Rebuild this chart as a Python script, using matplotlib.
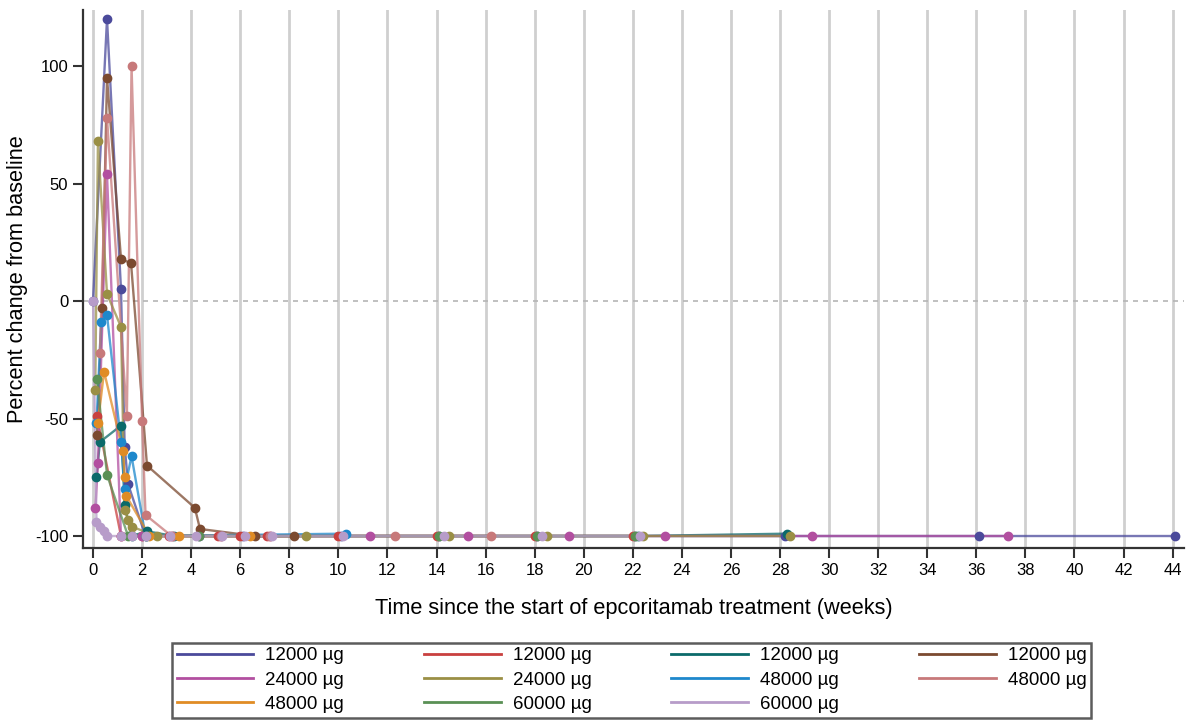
import matplotlib.pyplot as plt
from matplotlib.lines import Line2D

plt.rcParams['font.family'] = ['Liberation Sans', 'DejaVu Sans']
plt.rcParams['axes.unicode_minus'] = False

# one entry per patient: weeks since start, percent change from baseline
labels = ['12000 µg', '12000 µg', '12000 µg', '12000 µg',
          '24000 µg', '24000 µg', '48000 µg', '48000 µg',
          '48000 µg', '60000 µg', '60000 µg']
colors = ['#4B4A9B', '#C9403F', '#0B6A6A', '#7B4A30',
          '#B24FA0', '#9A8F45', '#1E88CC', '#C7797A',
          '#E08C25', '#5A9055', '#B79CC9']

weeks = [
    [0.0, 0.57, 1.14, 1.29, 1.43, 2.14, 4.3, 6.1, 10.1, 14.1, 18.1, 22.1, 28.2, 36.1, 44.1],
    [0.16, 1.14, 2.0, 3.1, 5.1, 6.0, 7.1, 10.0, 14.0, 18.0, 22.0],
    [0.14, 0.28, 1.14, 1.29, 1.57, 2.2, 3.3, 22.2, 28.3],
    [0.16, 0.37, 0.57, 1.14, 1.55, 2.2, 4.15, 4.36, 6.6, 8.2],
    [0.1, 0.2, 0.57, 1.14, 2.0, 3.2, 5.2, 7.2, 11.3, 15.3, 19.4, 23.3, 29.3, 37.3],
    [0.09, 0.2, 0.57, 1.14, 1.29, 1.43, 1.57, 2.6, 8.7, 14.5, 18.5, 22.4, 28.4],
    [0.14, 0.33, 0.57, 1.14, 1.29, 1.57, 2.14, 10.3],
    [0.28, 0.57, 1.38, 1.57, 2.0, 2.14, 3.2, 5.2, 7.2, 12.3, 16.2],
    [0.2, 0.45, 1.22, 1.29, 1.36, 2.3, 3.5, 6.4],
    [0.16, 0.57, 1.43, 2.14, 4.3, 14.1, 18.1, 22.1],
    [0.0, 0.14, 0.28, 0.43, 0.57, 1.14, 1.57, 2.14, 3.14, 4.2, 5.25, 6.2, 7.3, 10.2, 14.3, 18.3, 22.3],
]
change = [
    [0, 120, 5, -62, -78, -100, -100, -100, -100, -100, -100, -100, -100, -100, -100],
    [-49, -100, -100, -100, -100, -100, -100, -100, -100, -100, -100],
    [-75, -60, -53, -87, -100, -98, -100, -100, -99],
    [-57, -3, 95, 18, 16, -70, -88, -97, -100, -100],
    [-88, -69, 54, -100, -100, -100, -100, -100, -100, -100, -100, -100, -100, -100],
    [-38, 68, 3, -11, -89, -93, -96, -100, -100, -100, -100, -100, -100],
    [-52, -9, -6, -60, -80, -66, -100, -99],
    [-22, 78, -49, 100, -51, -91, -100, -100, -100, -100, -100],
    [-52, -30, -64, -75, -83, -100, -100, -100],
    [-33, -74, -100, -100, -100, -100, -100, -100],
    [0, -94, -96, -98, -100, -100, -100, -100, -100, -100, -100, -100, -100, -100, -100, -100, -100],
]

fig = plt.figure(figsize=(11.92, 7.22), dpi=100)
ax = fig.add_axes((0.0696, 0.241, 0.924, 0.745))

for x in range(0, 45, 2):
    ax.axvline(x, color='#cfcfcf', lw=2, zorder=0)
ax.axhline(0, color='#b5b5b5', lw=1.2, ls=(0, (3, 3)), zorder=0)

for t, v, c in zip(weeks, change, colors):
    ax.plot(t, v, color=c, lw=1.7, alpha=0.75, zorder=2)
    ax.plot(t, v, ls='none', marker='o', ms=6, color=c, zorder=3)

ax.set_xlim(-0.41, 44.48)
ax.set_ylim(-105.1, 123.8)
ax.set_xticks(range(0, 45, 2))
ax.set_yticks([-100, -50, 0, 50, 100])
ax.spines['top'].set_visible(False)
ax.spines['right'].set_visible(False)
for s in ('left', 'bottom'):
    ax.spines[s].set_linewidth(1.6)
    ax.spines[s].set_color('#333333')
ax.tick_params(length=7, width=1.5, color='#333333', labelsize=12)
ax.set_xlabel('Time since the start of epcoritamab treatment (weeks)', fontsize=15.7, labelpad=15)
ax.set_ylabel('Percent change from baseline', fontsize=15.7, labelpad=5)

# matplotlib fills legend columns first; reorder so entries read across rows
order = [0, 4, 8, 1, 5, 9, 2, 6, 10, 3, 7]
handles = [Line2D([], [], color=colors[i], lw=2) for i in order]
leg = fig.legend(handles, [labels[i] for i in order], ncol=4, loc='center',
                 bbox_to_anchor=(0.5298, 0.058),
                 fontsize=13.5, handlelength=4.1, handletextpad=0.64, columnspacing=4.25,
                 labelspacing=0.38, borderpad=0.25, borderaxespad=0, fancybox=False,
                 frameon=True)
leg.get_frame().set_edgecolor('#333333')
leg.get_frame().set_linewidth(1.8)

fig.savefig('out.png', dpi=100)
